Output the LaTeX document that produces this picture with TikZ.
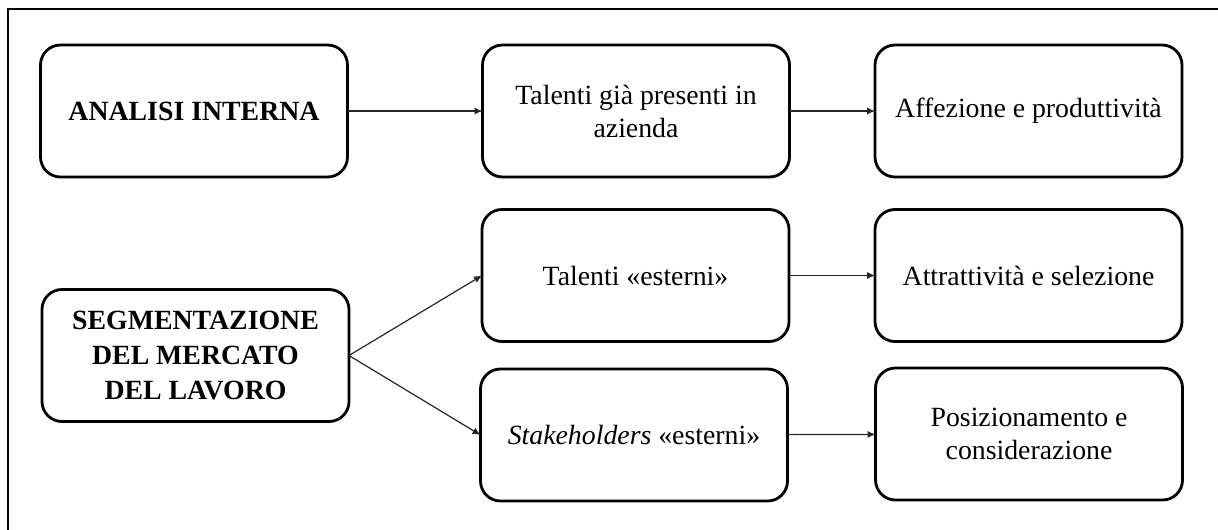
\documentclass[tikz,border=0pt]{standalone}
\usepackage{fontspec}
\setmainfont{Liberation Serif}
\usetikzlibrary{arrows.meta}
\begin{document}
\begin{tikzpicture}[x=0.5pt,y=-0.5pt,
  box/.style={draw=black, line width=1.4pt, rounded corners=10pt,
    minimum width=153.5pt, minimum height=66pt, inner sep=0pt, outer sep=0pt,
    align=center, font=\fontsize{13.9}{16.5}\selectfont},
  boldbox/.style={box, font=\fontsize{13.9}{17.5}\selectfont\bfseries},
  link/.style={draw=black!85, line width=0.6pt, -{Latex[length=4pt,width=3.6pt]}}]
  % page area and open frame (top and left edges)
  \path[use as bounding box, clip] (0,0) rectangle (1218,529);
  \draw[line width=1pt] (1240,9) -- (8,9) -- (8,560);

  % left column
  \node[boldbox] (ai) at (194,111) {ANALISI INTERNA};
  \node[boldbox] (seg) at (195.5,355.5) {SEGMENTAZIONE\\DEL MERCATO\\DEL LAVORO};

  % middle column
  \node[box] (tal) at (636,111) {Talenti già presenti in\\azienda};
  \node[box] (ext) at (635.5,275.5) {Talenti «esterni»};
  \node[box] (stk) at (634,435) {\textit{Stakeholders} «esterni»};

  % right column
  \node[box] (aff) at (1028.5,111) {Affezione e produttività};
  \node[box] (att) at (1028.5,275.5) {Attrattività e selezione};
  \node[box] (pos) at (1029,434) {Posizionamento e\\considerazione};

  % connectors
  \draw[link] (ai) -- (tal);
  \draw[link] (tal) -- (aff);
  \draw[link] (seg.east) -- (ext.west);
  \draw[link] (seg.east) -- (stk.west);
  \draw[link] (ext) -- (att);
  \draw[link] (stk) -- (pos);
\end{tikzpicture}
\end{document}
